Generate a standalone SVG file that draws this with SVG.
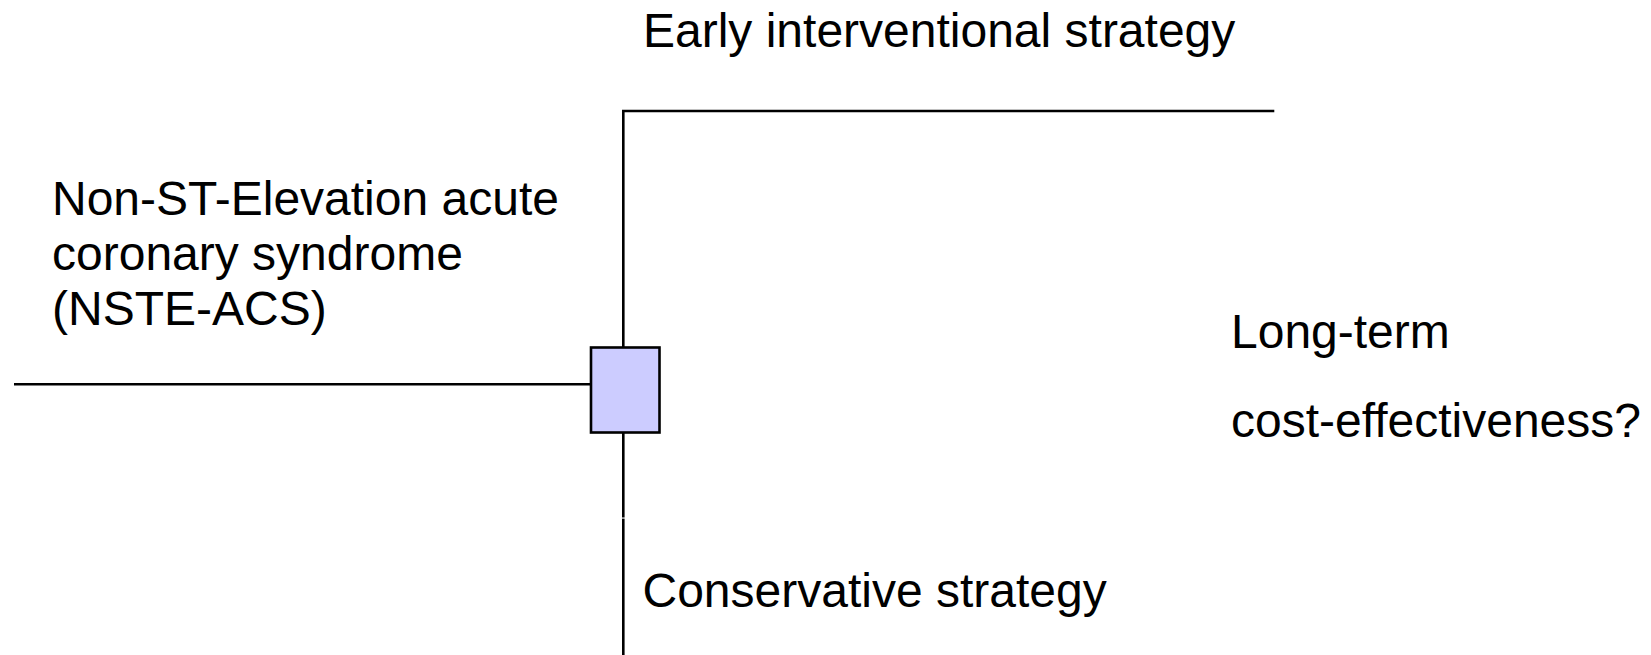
<svg xmlns="http://www.w3.org/2000/svg" width="1651" height="655" viewBox="0 0 1651 655">
  <style>
    .lbl { font-family: "Liberation Sans", Arial, sans-serif; font-size: 48px; fill: #000; }
    .wire { stroke: #000; stroke-width: 2.6; fill: none; }
    .decision { fill: #ccccff; stroke: #000; stroke-width: 2.6; }
  </style>
  <rect width="1651" height="655" fill="#fff"/>

  <g id="connectors">
    <!-- incoming branch -->
    <line class="wire" x1="14" y1="384.3" x2="590.5" y2="384.3"/>
    <!-- upper arm to early interventional strategy -->
    <polyline class="wire" points="623.3,347.5 623.3,111 1274.3,111"/>
    <!-- lower arm to conservative strategy -->
    <line class="wire" x1="623.3" y1="433" x2="623.3" y2="517.5"/>
    <line class="wire" x1="623.3" y1="518.6" x2="623.3" y2="655"/>
  </g>

  <g id="decision-node">
    <rect class="decision" x="591" y="347.5" width="68.5" height="85"/>
  </g>

  <g id="population">
    <text class="lbl" x="52" y="215">Non-ST-Elevation acute</text>
    <text class="lbl" x="52" y="270">coronary syndrome</text>
    <text class="lbl" x="52" y="325">(NSTE-ACS)</text>
  </g>

  <g id="early-strategy">
    <text class="lbl" x="643" y="46.7">Early interventional strategy</text>
  </g>

  <g id="conservative-strategy">
    <text class="lbl" x="642.5" y="606.7">Conservative strategy</text>
  </g>

  <g id="outcome">
    <text class="lbl" x="1231" y="348">Long-term</text>
    <text class="lbl" x="1231" y="436.7">cost-effectiveness?</text>
  </g>
</svg>
